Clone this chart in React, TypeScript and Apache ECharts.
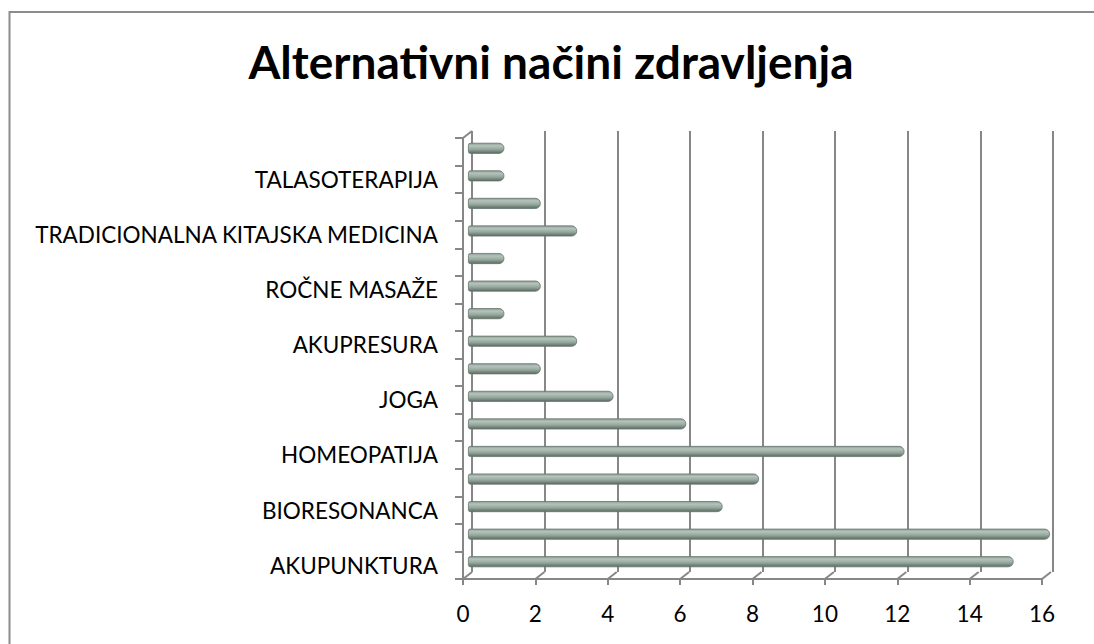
import React, { useEffect, useRef } from "react";
import * as echarts from "echarts";

// Categories bottom → top (only every other one is labelled in the reference)
const categories = [
  "AKUPUNKTURA",
  "REFLEKSOTERAPIJA",
  "BIORESONANCA",
  "AROMATERAPIJA",
  "HOMEOPATIJA",
  "ZDRAVILNA ZELIŠČA",
  "JOGA",
  "KIROPRAKTIKA",
  "AKUPRESURA",
  "REIKI",
  "ROČNE MASAŽE",
  "MEDITACIJA",
  "TRADICIONALNA KITAJSKA MEDICINA",
  "AJURVEDA",
  "TALASOTERAPIJA",
  "BIOENERGIJA",
];
const values = [15, 16, 7, 8, 12, 6, 4, 2, 3, 1, 2, 1, 3, 2, 1, 1];
const xTicks = [0, 2, 4, 6, 8, 10, 12, 14, 16];
const titleText = "Alternativni načini zdravljenja";

const FONT = "Lato, 'Noto Sans', sans-serif";
const GRAY = "#878787";

export default function App() {
  const ref = useRef<HTMLDivElement>(null);
  useEffect(() => {
    if (!ref.current) return;
    const chart = echarts.init(ref.current, null, { renderer: "svg" });
    const option: any = {
      animation: false,
      backgroundColor: "#ffffff",
      title: {
        text: titleText,
        left: 546,
        textAlign: "center",
        top: 33,
        textStyle: { fontFamily: FONT, fontSize: 46, fontWeight: "bold", color: "#000" },
      },
      graphic: [
        {
          type: "rect",
          shape: { x: 9.5, y: 12, width: 1200, height: 800 },
          style: { fill: "none", stroke: "#8c8c8c", lineWidth: 2 },
          silent: true,
          z: 100,
        },
      ],
      grid: [
        // back wall
        { left: 472, right: 41, top: 131, bottom: 72 },
        // front axes
        { left: 463, right: 52, top: 138, bottom: 65 },
        // bars (mid depth)
        { left: 468, right: 44, top: 134.5, bottom: 68.5 },
      ],
      xAxis: [
        {
          gridIndex: 0, type: "value", min: 0, max: 16, interval: 2,
          axisLine: { show: false }, axisTick: { show: false }, axisLabel: { show: false },
          splitLine: { show: true, lineStyle: { color: GRAY, width: 2 } },
        },
        {
          gridIndex: 1, type: "value", min: 0, max: 16, interval: 2,
          axisLine: { show: true, lineStyle: { color: GRAY, width: 2 } },
          axisTick: { show: true, length: 6, lineStyle: { color: GRAY, width: 2 } },
          axisLabel: { show: true, margin: 23, fontFamily: FONT, fontSize: 22.5, color: "#000" },
          splitLine: { show: false },
        },
        {
          gridIndex: 2, type: "value", min: 0, max: 16, interval: 2, show: false,
        },
      ],
      yAxis: [
        {
          gridIndex: 0, type: "category", data: categories, show: false,
        },
        {
          gridIndex: 1, type: "category", data: categories,
          axisLine: { show: true, lineStyle: { color: GRAY, width: 2 } },
          axisTick: { show: true, interval: 0, length: 8, lineStyle: { color: GRAY, width: 2 } },
          axisLabel: { show: true, interval: 1, margin: 25, fontFamily: FONT, fontSize: 22.5, color: "#000" },
          splitLine: { show: false },
        },
        {
          gridIndex: 2, type: "category", data: categories, show: false,
        },
      ],
      series: [
        {
          type: "custom",
          xAxisIndex: 1,
          yAxisIndex: 1,
          silent: true,
          data: xTicks.map((v) => [v, 0]),
          encode: { x: 0, y: 1 },
          renderItem: (params: any, api: any) => {
            const v = api.value(0);
            const p = api.coord([v, 0]);
            const cs = params.coordSys;
            const bottom = cs.y + cs.height;
            const children: any[] = [
              {
                type: "line",
                shape: { x1: p[0], y1: bottom, x2: p[0] + 9, y2: bottom - 7 },
                style: { stroke: GRAY, lineWidth: 2 },
              },
            ];
            if (v === 0) {
              children.push({
                type: "line",
                shape: { x1: p[0], y1: cs.y, x2: p[0] + 9, y2: cs.y - 7 },
                style: { stroke: GRAY, lineWidth: 2 },
              });
            }
            return { type: "group", children };
          },
        },
        {
          type: "bar",
          xAxisIndex: 2,
          yAxisIndex: 2,
          data: values,
          barWidth: 11,
          itemStyle: {
            borderRadius: [2, 5, 5, 2],
            borderColor: "#65756d",
            borderWidth: 0.8,
            color: new echarts.graphic.LinearGradient(0, 0, 0, 1, [
              { offset: 0, color: "#8b9d94" },
              { offset: 0.25, color: "#b4c3bb" },
              { offset: 0.6, color: "#96a89e" },
              { offset: 1, color: "#5a6a62" },
            ]),
          },
        },
      ],
    };
    chart.setOption(option);
    return () => chart.dispose();
  }, []);
  return (
    <div
      ref={ref}
      style={{ position: "fixed", left: 0, top: 0, width: 1094, height: 644 }}
    />
  );
}
